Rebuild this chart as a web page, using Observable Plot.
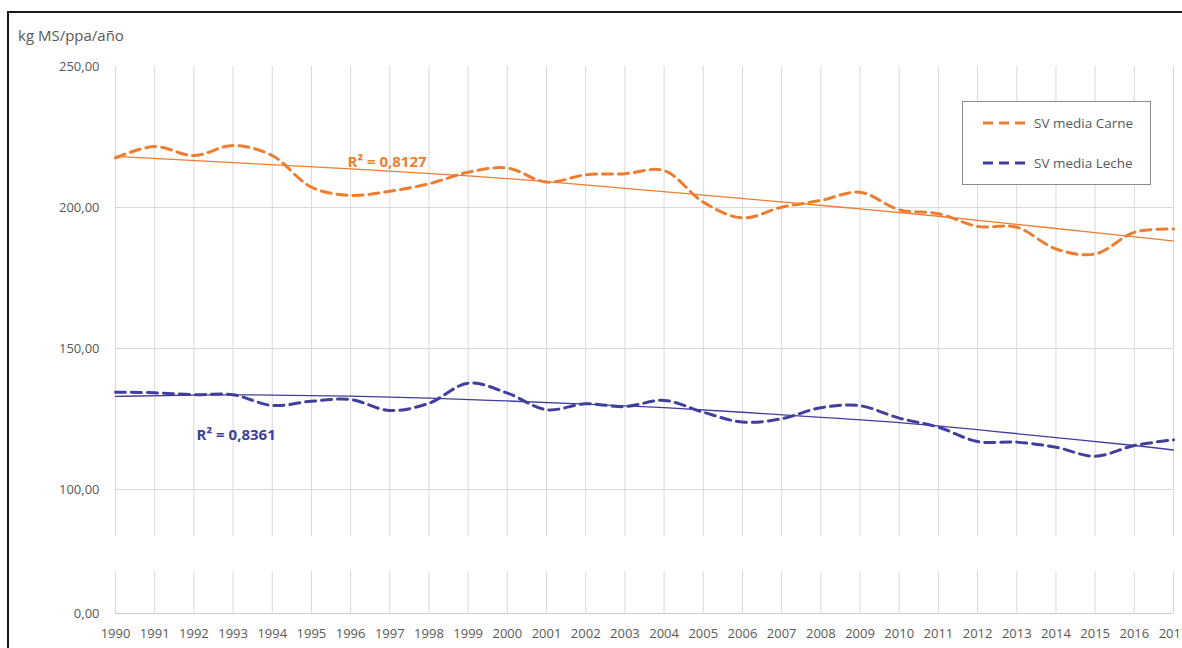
<!DOCTYPE html>
<html><head><meta charset="utf-8">
<script src="https://cdn.jsdelivr.net/npm/d3@7"></script>
<script src="https://cdn.jsdelivr.net/npm/@observablehq/plot@0.6"></script>
<style>
body{margin:0;background:#fff;font-family:"Open Sans",sans-serif;}
#wrap{position:relative;width:1182px;height:648px;overflow:hidden;background:#fff;}
#frame{position:absolute;left:7px;top:11px;width:1300px;height:800px;border-left:2px solid #1a1a1a;border-top:2px solid #1a1a1a;}
#ylabel{position:absolute;left:18px;top:25px;font-size:15px;color:#595959;white-space:nowrap;}
#upper{position:absolute;left:0;top:0;}
#lower{position:absolute;left:0;top:571px;}
#legend{position:absolute;left:962px;top:101px;width:189px;height:84px;border:1px solid #8c8c8c;background:#fff;box-sizing:border-box;}
.entry{position:absolute;left:20px;height:18px;display:flex;align-items:center;font-size:13.5px;color:#595959;white-space:nowrap;}
.entry svg{margin-right:5px;}
</style>
</head><body>
<div id="wrap">
  <div id="frame"></div>
  <div id="upper"></div>
  <div id="lower"></div>
  <div id="ylabel">kg MS/ppa/año</div>
  <div id="legend"></div>
</div>
<script>
const years = [1990,1991,1992,1993,1994,1995,1996,1997,1998,1999,2000,2001,2002,2003,2004,2005,2006,2007,2008,2009,2010,2011,2012,2013,2014,2015,2016,2017];
const carne = [217.6,221.6,218.4,222.0,218.4,207.2,204.3,205.8,208.4,212.5,214.0,209.0,211.6,212.0,213.1,201.9,196.3,200.1,202.5,205.4,199.2,197.8,193.3,193.0,185.3,183.5,191.2,192.4];
const leche = [134.5,134.3,133.6,133.6,129.8,131.3,131.9,128.0,130.6,137.7,134.2,128.3,130.4,129.4,131.6,127.4,123.9,125.1,129.0,129.7,125.3,122.1,117.0,116.8,115.0,111.8,115.6,117.6];
// polynomial trend lines
const trendCarneYears = [1990, 1993, 1996, 1999, 2001, 2003, 2005, 2007, 2009, 2011, 2013, 2015, 2017];
const trendCarne =      [218.1, 215.9, 213.7, 211.2, 209.2, 206.8, 204.4, 202.0, 199.5, 196.9, 194.0, 191.1, 188.1];
const trendLecheYears = [1990, 1992, 1994, 1996, 1998, 2000, 2002, 2004, 2006, 2008, 2010, 2012, 2014, 2016, 2017];
const trendLeche =      [133.0, 133.5, 133.5, 133.1, 132.4, 131.4, 130.3, 129.0, 127.4, 125.6, 123.7, 121.2, 118.4, 115.6, 114.0];
const seriesNames = ["SV media Carne", "SV media Leche"];
const r2Labels = ["R² = 0,8127", "R² = 0,8361"];
const r2X = [1995.92, 1992.07];
const r2Y = [216.0, 119.1];
const upperTicks = [100, 150, 200, 250];
const upperGrid = [100, 150, 200];
const lowerTicks = [0];

const colors = ["#ED7D31", "#3f3f9c"];
const rows = years.map((year, i) => ({year, carne: carne[i], leche: leche[i]}));
const trendCRows = trendCarneYears.map((year, i) => ({year, v: trendCarne[i]}));
const trendLRows = trendLecheYears.map((year, i) => ({year, v: trendLeche[i]}));
const labelRows = r2Labels.map((text, i) => ({text, x: r2X[i], y: r2Y[i], color: colors[i]}));
const fmt = d => d.toFixed(2).replace(".", ",");
const style = {fontFamily: "'Open Sans', sans-serif", fontSize: "13px", color: "#595959", background: "transparent", overflow: "visible"};
const grid = "#d9d9d9";
const yBreak = 250 - (536 - 66) / 141 * 50;

const upper = Plot.plot({
  width: 1182, height: 536,
  marginLeft: 115, marginRight: 9, marginTop: 66, marginBottom: 0,
  x: {domain: [1990, 2017], axis: null},
  y: {domain: [yBreak, 250], axis: null},
  style,
  marks: [
    Plot.gridX(years, {stroke: grid, strokeOpacity: 1}),
    Plot.gridY(upperGrid, {stroke: grid, strokeOpacity: 1}),
    Plot.axisY(upperTicks, {tickSize: 0, tickPadding: 16, tickFormat: fmt, fill: "#595959", label: null}),
    Plot.line(rows, {x: "year", y: "carne", stroke: colors[0], strokeWidth: 3, strokeDasharray: "10,6", curve: "catmull-rom"}),
    Plot.line(rows, {x: "year", y: "leche", stroke: colors[1], strokeWidth: 3, strokeDasharray: "10,6", curve: "catmull-rom"}),
    Plot.line(trendCRows, {x: "year", y: "v", stroke: colors[0], strokeWidth: 1.3, curve: "natural"}),
    Plot.line(trendLRows, {x: "year", y: "v", stroke: colors[1], strokeWidth: 1.3, curve: "natural"}),
    Plot.text(labelRows, {x: "x", y: "y", text: "text", fill: "color", textAnchor: "start", fontWeight: "bold", fontSize: 15})
  ]
});
document.getElementById("upper").appendChild(upper);

const lower = Plot.plot({
  width: 1182, height: 77,
  marginLeft: 115, marginRight: 9, marginTop: 0, marginBottom: 35,
  x: {domain: [1990, 2017], axis: null},
  y: {domain: [0, 42 / 141 * 50], axis: null},
  style,
  marks: [
    Plot.gridX(years, {stroke: grid, strokeOpacity: 1}),
    Plot.gridY(lowerTicks, {stroke: "#cfcfcf", strokeOpacity: 1}),
    Plot.axisY(lowerTicks, {tickSize: 0, tickPadding: 16, tickFormat: fmt, fill: "#595959", label: null}),
    Plot.axisX(years, {tickSize: 0, tickPadding: 15, tickFormat: d => String(d), fill: "#595959", label: null})
  ]
});
document.getElementById("lower").appendChild(lower);

const legend = document.getElementById("legend");
seriesNames.forEach((name, i) => {
  const e = document.createElement("div");
  e.className = "entry";
  e.style.top = (i === 0 ? 12 : 52) + "px";
  e.innerHTML = `<svg width="46" height="4"><line x1="0" y1="2" x2="46" y2="2" stroke="${colors[i]}" stroke-width="3" stroke-dasharray="10,6"/></svg><span>${name}</span>`;
  legend.appendChild(e);
});
</script>
</body></html>
